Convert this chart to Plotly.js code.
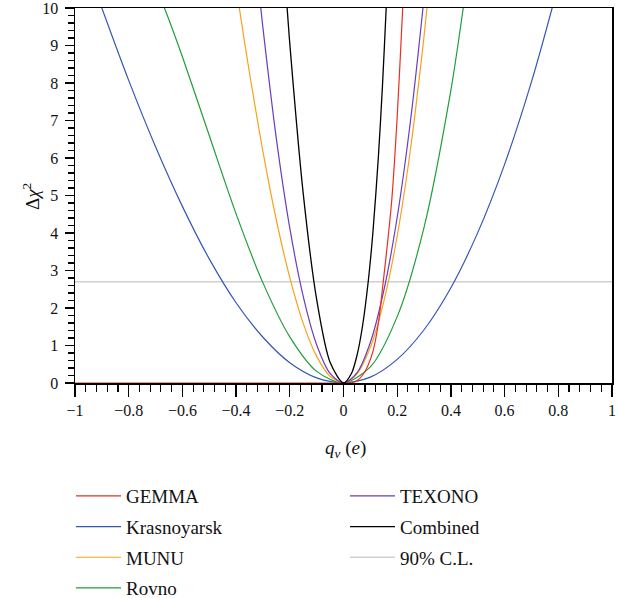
<!DOCTYPE html>
<html>
<head>
<meta charset="utf-8">
<script src="https://cdn.plot.ly/plotly-3.0.1.min.js"></script>
<style>html,body{margin:0;padding:0;background:#fff;}#chart{width:618px;height:598px;}
#chart .xtick text, #chart .ytick text{font-family:"Liberation Serif","DejaVu Serif",serif !important;}</style>
</head>
<body>
<div id="chart"></div>
<script>
// Δχ² curves (q in units of e)
const gemmaQ = [-1, -0.5, 0, 0.03, 0.05, 0.07, 0.09, 0.11, 0.13, 0.148, 0.165, 0.18, 0.2, 0.2205, 0.23];
const gemmaC = [0, 0, 0, 0.01, 0.06, 0.2, 0.45, 0.85, 1.6, 2.7, 3.8, 4.9, 7.1, 10, 11.5];

const krasQ = [-0.95, -0.9, -0.8, -0.7, -0.6, -0.5, -0.4, -0.3, -0.2, -0.1, 0, 0.1, 0.2, 0.3, 0.4, 0.5, 0.6, 0.7, 0.777, 0.8];
const krasC = [11.0, 10.0, 8.07, 6.30, 4.71, 3.31, 2.14, 1.22, 0.54, 0.137, 0, 0.157, 0.63, 1.42, 2.54, 4.01, 5.83, 8.03, 10.0, 10.64];

const munuQ = [-0.41, -0.388, -0.35, -0.3, -0.25, -0.2, -0.15, -0.1, -0.05, 0, 0.05, 0.1, 0.15, 0.2, 0.25, 0.3, 0.311, 0.33];
const munuC = [11.07, 10.0, 8.26, 6.17, 4.34, 2.81, 1.59, 0.71, 0.18, 0, 0.24, 0.95, 2.17, 3.92, 6.26, 9.25, 10.0, 11.39];

const rovnoQ = [-0.7, -0.667, -0.6, -0.5, -0.4, -0.3, -0.2, -0.1, 0, 0.1, 0.2, 0.3, 0.4, 0.446, 0.47];
const rovnoC = [10.56, 10.0, 8.70, 6.60, 4.51, 2.67, 1.23, 0.31, 0, 0.43, 1.77, 4.15, 7.81, 10.0, 11.29];

const texonoQ = [-0.33, -0.308, -0.3, -0.25, -0.2, -0.15, -0.1, -0.05, 0, 0.05, 0.1, 0.15, 0.2, 0.25, 0.296, 0.31];
const texonoC = [11.53, 10.0, 9.47, 6.51, 4.13, 2.31, 1.02, 0.255, 0, 0.27, 1.08, 2.46, 4.42, 7.02, 10.0, 11.02];

const combQ = [-0.22, -0.21, -0.2, -0.15, -0.1, -0.05, 0, 0.03, 0.05, 0.07, 0.092, 0.11, 0.13, 0.145, 0.159, 0.165];
const combC = [10.99, 10.0, 9.05, 5.05, 2.23, 0.554, 0, 0.26, 0.73, 1.48, 2.7, 4.06, 6.04, 7.91, 10.0, 11.0];

const clQ = [-1, 1];
const clC = [2.7, 2.7];

const xTickVals = [-1, -0.8, -0.6, -0.4, -0.2, 0, 0.2, 0.4, 0.6, 0.8, 1];
const xTickText = ["\u22121", "\u22120.8", "\u22120.6", "\u22120.4", "\u22120.2", "0", "0.2", "0.4", "0.6", "0.8", "1"];
const yTickVals = [0, 1, 2, 3, 4, 5, 6, 7, 8, 9, 10];
const yTickText = ["0", "1", "2", "3", "4", "5", "6", "7", "8", "9", "10"];

const xTitle = '<i>q</i><sub><i>ν</i></sub> (<i>e</i>)';
const yTitle = 'Δ<i>χ</i><sup>2</sup>';

const FONT = "Liberation Serif, DejaVu Serif, serif";

function curve(name, x, y, color, width, legend, group) {
  return {
    type: 'scatter', mode: 'lines', name: name, x: x, y: y,
    line: {color: color, width: width, shape: 'spline', smoothing: 0.8},
    legend: legend, legendgroup: group, hoverinfo: 'skip'
  };
}

const traces = [
  curve('90% C.L.', clQ, clC, '#cfcfcf', 1.6, 'legend2', 'g7'),
  curve('Krasnoyarsk', krasQ, krasC, '#3558b5', 1.2, 'legend', 'g2'),
  curve('Rovno', rovnoQ, rovnoC, '#1f9e3a', 1.2, 'legend', 'g4'),
  curve('MUNU', munuQ, munuC, '#f7a21b', 1.2, 'legend', 'g3'),
  curve('TEXONO', texonoQ, texonoC, '#6a3cbf', 1.2, 'legend2', 'g5'),
  curve('GEMMA', gemmaQ, gemmaC, '#ea2e23', 1.2, 'legend', 'g1'),
  curve('Combined', combQ, combC, '#000000', 1.3, 'legend2', 'g6')
];
const order = {'GEMMA':1,'Krasnoyarsk':2,'MUNU':3,'Rovno':4,'TEXONO':5,'Combined':6,'90% C.L.':7};
traces.forEach(t => t.legendrank = order[t.name]);

const legendCommon = {
  orientation: 'v', xanchor: 'left', yanchor: 'top', xref: 'container', yref: 'container',
  font: {family: FONT, size: 19, color: '#111'},
  bgcolor: 'rgba(0,0,0,0)', borderwidth: 0,
  traceorder: 'grouped', tracegroupgap: 3, itemwidth: 45
};

const layout = {
  width: 618, height: 598,
  margin: {l: 75, r: 6, t: 8, b: 215, autoexpand: false},
  paper_bgcolor: '#ffffff', plot_bgcolor: '#ffffff',
  font: {family: FONT, size: 16, color: '#111'},
  showlegend: true,
  legend: Object.assign({}, legendCommon, {x: 71 / 618, y: 1 - 477 / 598}),
  legend2: Object.assign({}, legendCommon, {x: 345 / 618, y: 1 - 477 / 598}),
  xaxis: {
    range: [-1, 1], tickmode: 'array', tickvals: xTickVals, ticktext: xTickText,
    ticks: 'outside', ticklen: 12, tickwidth: 1.3, tickcolor: '#000',
    minor: {dtick: 0.04, ticks: 'outside', ticklen: 7, tickwidth: 1.1, tickcolor: '#000', showgrid: false},
    showline: true, linecolor: '#000', linewidth: 1.5, mirror: true,
    showgrid: false, zeroline: false, layer: 'below traces', ticklabeloverflow: 'allow',
    tickfont: {family: FONT, size: 16, color: '#111'}
  },
  yaxis: {
    range: [0, 10], tickmode: 'array', tickvals: yTickVals, ticktext: yTickText,
    ticks: 'outside', ticklen: 9, tickwidth: 1.3, tickcolor: '#000',
    minor: {dtick: 0.2, ticks: 'outside', ticklen: 6, tickwidth: 1.1, tickcolor: '#000', showgrid: false},
    showline: true, linecolor: '#000', linewidth: 1.5, mirror: true,
    showgrid: false, zeroline: false, layer: 'below traces', ticklabeloverflow: 'allow',
    ticklabelstandoff: 3,
    tickfont: {family: FONT, size: 16, color: '#111'}
  },
  annotations: [
    {text: xTitle, xref: 'paper', yref: 'paper', x: 0.503, y: -0.176, xanchor: 'center', yanchor: 'middle',
     showarrow: false, font: {family: FONT, size: 19, color: '#111'}},
    {text: yTitle, xref: 'paper', yref: 'paper', x: 0, xshift: -44, y: 0.496, xanchor: 'center', yanchor: 'middle',
     textangle: -90, showarrow: false, font: {family: FONT, size: 19, color: '#111'}}
  ]
};

Plotly.newPlot('chart', traces, layout, {displayModeBar: false, staticPlot: true});
</script>
</body>
</html>
